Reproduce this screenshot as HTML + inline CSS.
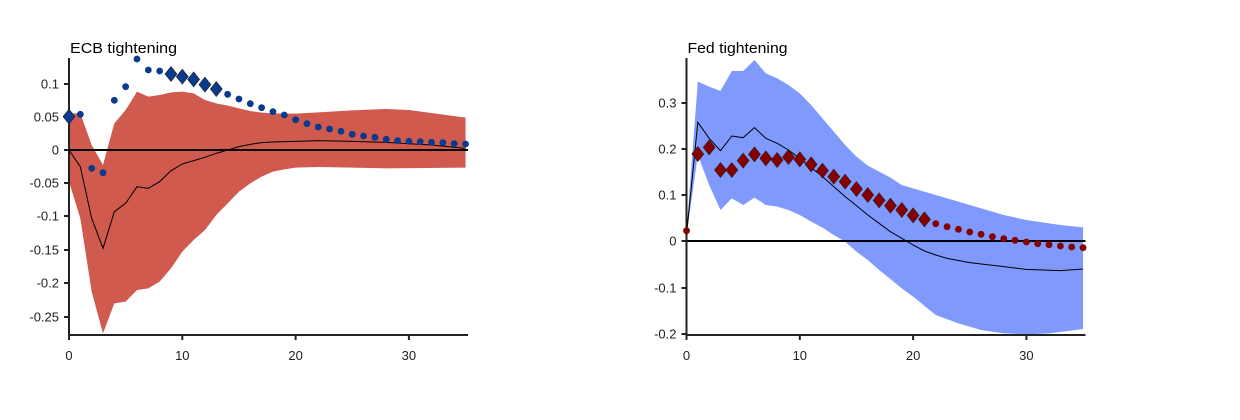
<!DOCTYPE html>
<html><head><meta charset="utf-8"><style>
body{margin:0;background:#fff;}
svg text{font-family:"Liberation Sans",Arial,sans-serif;}
</style></head><body>
<svg id="s" width="1240" height="415" xmlns="http://www.w3.org/2000/svg"></svg>
<script>
const S=document.getElementById('s');let h='';
const Y=z=>35+z/3;
function pts(obj,x0){return Object.keys(obj).map(k=>[x0+11.33*k,Y(obj[k])]);}
function band(up,lo,x0,col){const a=pts(up,x0),b=pts(lo,x0).reverse();h+=`<polygon fill="${col}" points="${a.concat(b).map(p=>p.join(',')).join(' ')}"/>`;}
function line(o,x0){h+=`<polyline fill="none" stroke="#000" stroke-width="1" points="${pts(o,x0).map(p=>p.join(',')).join(' ')}"/>`;}
function marks(o,x0,dia,col){for(const k in o){const x=x0+11.33*k,y=Y(o[k]);if(dia.includes(+k))h+=`<polygon points="${x},${y-7.5} ${x+6},${y} ${x},${y+7.5} ${x-6},${y}" fill="${col}" stroke="#222" stroke-width="0.6"/>`;else h+=`<circle cx="${x}" cy="${y}" r="3.4" fill="${col}"/>`;}}
function axes(x0,zeroY,yt,title,tl){
 h+=`<line x1="${x0}" y1="${zeroY}" x2="${x0+399}" y2="${zeroY}" stroke="#000" stroke-width="2"/>`;
 h+=`<line x1="${x0}" y1="58" x2="${x0}" y2="336" stroke="#222" stroke-width="2"/><line x1="${x0-1}" y1="335" x2="${x0+399}" y2="335" stroke="#222" stroke-width="2"/>`;
 for(const [v,y] of yt){h+=`<line x1="${x0-5}" y1="${y}" x2="${x0}" y2="${y}" stroke="#222" stroke-width="2"/><text x="${x0-10}" y="${y+4.5}" font-size="13" text-anchor="end" fill="#222">${v}</text>`;}
 for(let i=0;i<=30;i+=10){const x=x0+11.33*i;h+=`<line x1="${x}" y1="335" x2="${x}" y2="340" stroke="#222" stroke-width="2"/><text x="${x}" y="360" font-size="13" text-anchor="middle" fill="#222">${i}</text>`;}
 h+=`<text x="${x0+1}" y="53" font-size="15" fill="#000" textLength="${tl}" lengthAdjust="spacingAndGlyphs">${title}</text>`;
}
// Left
const L0=69;
band({0:235,1:235,2:330,3:390,4:265,5:225,6:170,7:185,8:180,9:172,10:170,11:175,12:195,13:205,14:212,15:220,16:228,17:233,18:235,19:236,20:236,22:232,25:226,28:222,30:225,35:248},
{0:440,1:550,2:770,3:895,4:805,5:800,6:765,7:760,8:740,9:700,10:650,11:615,12:585,13:540,14:505,15:470,16:445,17:425,18:410,19:403,20:398,22:396,25:398,28:400,35:398},L0,"#d05a4e");
axes(L0,150,[["0.1",84],["0.05",117],["0",150],["-0.05",183],["-0.1",216],["-0.15",250],["-0.2",283],["-0.25",317]],"ECB tightening",107);
line({0:345,1:395,2:550,3:640,4:530,5:505,6:455,7:460,8:440,9:407,10:387,11:377,12:367,13:355,14:345,15:335,16:328,17:323,18:321,19:320,20:319,22:317,25:319,28:322,32:330,35:340},L0);
marks({0:245,1:238,2:400,3:413,4:196,5:155,6:72,7:105,8:108,9:117,10:125,11:133,12:149,13:162,14:178,15:192,16:206,17:218,18:230,19:240,20:254,21:266,22:276,23:282,24:289,25:298,26:303,27:307,28:313,29:317,30:319,31:320,32:322,33:323,34:326,35:327},L0,[0,9,10,11,12,13],"#0a3a8c");
// Right
const R0=686.5;
band({0:590,1:140,2:155,3:168,4:108,5:108,6:75,7:115,8:130,9:150,10:175,11:210,12:250,13:290,14:330,15:365,16:392,17:410,18:428,19:450,20:460,22:480,25:510,28:540,30:555,33:570,35:577},
{0:600,1:360,2:450,3:525,4:490,5:510,6:488,7:510,8:515,9:525,10:540,11:560,12:578,13:600,14:620,15:650,16:675,17:705,18:732,19:760,20:785,22:840,24:865,26:885,28:895,30:898,32:895,35:882},R0,"#7f99fc");
axes(R0,241,[["0.3",103],["0.2",149],["0.1",195],["0",241],["-0.1",288],["-0.2",334]],"Fed tightening",100);
line({0:600,1:262,2:310,3:347,4:303,5:308,6:278,7:310,8:325,9:345,10:370,11:398,12:425,13:455,14:485,15:512,16:540,17:565,18:590,19:610,20:630,21:648,22:660,23:670,25:683,28:695,30:703,33:707,35:702},R0);
marks({0:587,1:357,2:337,3:405,4:405,5:377,6:358,7:370,8:375,9:366,10:373,11:388,12:407,13:425,14:440,15:462,16:480,17:496,18:512,19:525,20:541,21:553,22:566,23:575,24:583,25:591,26:598,27:605,28:611,29:616,30:621,31:626,32:629,33:633,34:636,35:638},R0,[1,2,3,4,5,6,7,8,9,10,11,12,13,14,15,16,17,18,19,20,21],"#850000");
S.innerHTML=h;
</script>
</body></html>
